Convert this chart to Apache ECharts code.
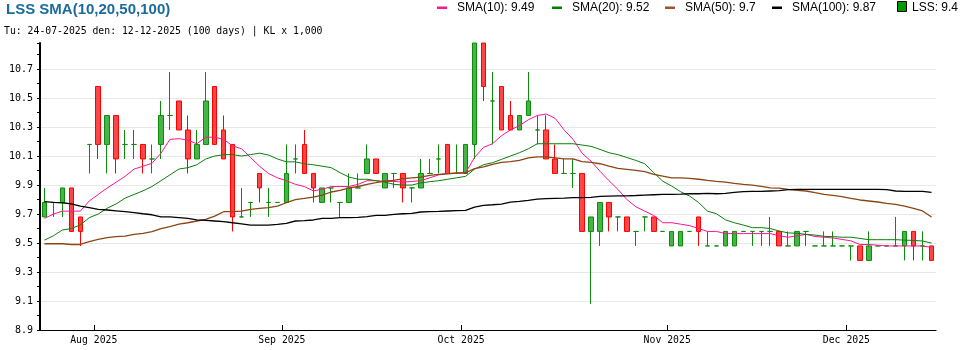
<!DOCTYPE html>
<html>
<head>
<meta charset="utf-8">
<title>LSS SMA(10,20,50,100)</title>
<script src="https://cdn.jsdelivr.net/npm/echarts@6/dist/echarts.min.js"></script>
<style>
  html, body { margin: 0; padding: 0; background: #fff; }
  #chart { width: 970px; height: 350px; }
</style>
</head>
<body>
<div id="chart"></div>
<script>
// Trading sessions shown on the chart (Sep 1-2 are market holidays)
const dates = [
  '2025-07-24','2025-07-25','2025-07-28','2025-07-29','2025-07-30','2025-07-31',
  '2025-08-01','2025-08-04','2025-08-05','2025-08-06','2025-08-07','2025-08-08','2025-08-11','2025-08-12','2025-08-13','2025-08-14','2025-08-15',
  '2025-08-18','2025-08-19','2025-08-20','2025-08-21','2025-08-22','2025-08-25','2025-08-26','2025-08-27','2025-08-28','2025-08-29',
  '2025-09-03','2025-09-04','2025-09-05','2025-09-08','2025-09-09','2025-09-10','2025-09-11','2025-09-12','2025-09-15','2025-09-16',
  '2025-09-17','2025-09-18','2025-09-19','2025-09-22','2025-09-23','2025-09-24','2025-09-25','2025-09-26','2025-09-29','2025-09-30',
  '2025-10-01','2025-10-02','2025-10-03','2025-10-06','2025-10-07','2025-10-08','2025-10-09','2025-10-10','2025-10-13','2025-10-14',
  '2025-10-15','2025-10-16','2025-10-17','2025-10-20','2025-10-21','2025-10-22','2025-10-23','2025-10-24','2025-10-27','2025-10-28',
  '2025-10-29','2025-10-30','2025-10-31',
  '2025-11-03','2025-11-04','2025-11-05','2025-11-06','2025-11-07','2025-11-10','2025-11-11','2025-11-12','2025-11-13','2025-11-14',
  '2025-11-17','2025-11-18','2025-11-19','2025-11-20','2025-11-21','2025-11-24','2025-11-25','2025-11-26','2025-11-27','2025-11-28',
  '2025-12-01','2025-12-02','2025-12-03','2025-12-04','2025-12-05','2025-12-08','2025-12-09','2025-12-10','2025-12-11','2025-12-12'
];

// Daily prices (thousand VND)
const openPrices = [
  9.7,9.8,9.8,9.9,9.7, 10.2,10.6,10.2,10.4,10.2, 10.2,10.2,10.1,10.2,10.4, 10.5,10.3,10.1,10.2,10.6, 10.3,10.2,9.7,9.8,10.0,
  9.8,9.8,9.8,10.1,10.2, 10.0,9.8,9.9,9.8,9.8, 9.9,10.0,10.1,9.9,10.0, 10.0,9.9,9.9,10.0,10.1, 10.2,10.0,10.0,10.2,10.9,
  10.5,10.6,10.4,10.3,10.4, 10.3,10.3,10.1,10.0,10.0, 10.0,9.6,9.6,9.8,9.7, 9.7,9.6,9.7,9.7,9.6, 9.5,9.5,9.6,9.7,9.5,
  9.5,9.5,9.5,9.6,9.6, 9.6,9.6,9.6,9.5,9.5, 9.6,9.5,9.5,9.5,9.5, 9.5,9.5,9.4,9.5,9.5, 9.5,9.5,9.6,9.5,9.5
];
const closePrices = [
  9.8,9.8,9.9,9.6,9.6, 10.2,10.2,10.4,10.1,10.2, 10.2,10.1,10.1,10.4,10.4, 10.3,10.1,10.2,10.5,10.2, 10.1,9.7,9.7,9.8,9.9,
  9.8,9.8,10.0,10.1,10.0, 9.9,9.9,9.9,9.8,9.9, 9.9,10.1,10.0,10.0,10.0, 9.9,9.9,10.0,10.0,10.1, 10.0,10.0,10.2,10.9,10.6,
  10.5,10.3,10.3,10.4,10.5, 10.3,10.1,10.0,10.0,10.0, 9.6,9.7,9.8,9.7,9.7, 9.6,9.6,9.7,9.6,9.6, 9.6,9.6,9.6,9.6,9.5,
  9.5,9.6,9.6,9.6,9.6, 9.6,9.6,9.5,9.5,9.6, 9.6,9.5,9.5,9.5,9.5, 9.5,9.4,9.5,9.5,9.5, 9.5,9.6,9.5,9.5,9.4
];
const lowPrices = [
  9.7,9.7,9.7,9.6,9.5, 10.0,10.1,10.0,10.0,10.1, 10.1,10.0,10.0,10.1,10.3, 10.3,10.0,10.1,10.2,10.2, 10.1,9.6,9.7,9.7,9.8,
  9.7,9.8,9.8,10.0,10.0, 9.8,9.8,9.8,9.7,9.8, 9.9,10.0,10.0,9.9,9.9, 9.8,9.8,9.9,10.0,10.0, 10.0,10.0,10.0,10.1,10.5,
  10.2,10.3,10.3,10.3,10.4, 10.2,10.1,10.0,10.0,9.9, 9.6,9.1,9.5,9.6,9.6, 9.6,9.5,9.6,9.6,9.6, 9.5,9.5,9.6,9.5,9.5,
  9.5,9.5,9.5,9.6,9.5, 9.5,9.5,9.5,9.5,9.5, 9.5,9.5,9.5,9.5,9.5, 9.4,9.4,9.4,9.5,9.5, 9.5,9.4,9.4,9.4,9.4
];
const highPrices = [
  9.9,9.8,9.9,9.9,9.7, 10.2,10.6,10.4,10.4,10.3, 10.3,10.2,10.2,10.5,10.7, 10.5,10.4,10.3,10.7,10.6, 10.4,10.2,9.9,9.8,10.0,
  9.9,9.8,10.2,10.2,10.3, 10.0,9.9,9.9,9.8,10.0, 10.0,10.2,10.1,10.0,10.0, 10.0,9.9,10.1,10.1,10.2, 10.2,10.2,10.2,10.9,10.9,
  10.7,10.6,10.5,10.4,10.7, 10.4,10.4,10.2,10.1,10.1, 10.0,9.7,9.8,9.8,9.7, 9.7,9.6,9.7,9.7,9.6, 9.6,9.6,9.6,9.7,9.6,
  9.5,9.6,9.6,9.6,9.6, 9.6,9.7,9.6,9.6,9.6, 9.6,9.5,9.6,9.6,9.5, 9.5,9.5,9.6,9.5,9.5, 9.7,9.6,9.6,9.6,9.5
];

// Moving averages
const sma10 = [
  9.69,9.72,9.74,9.74,9.74, 9.81,9.855,9.90,9.94,9.98, 10.03,10.05,10.07,10.14,10.235, 10.24,10.23,10.205,10.25,10.25, 10.235,10.19,10.17,10.11,10.05,
  10.0,9.97,9.95,9.925,9.91, 9.88,9.89,9.91,9.91,9.91, 9.925,9.95,9.95,9.945,9.945, 9.94,9.945,9.95,9.97,9.99, 10.0,10.0,10.005,10.11,10.18,
  10.205,10.26,10.30,10.33,10.37, 10.40,10.41,10.38,10.30,10.235, 10.14,10.085,10.015,9.95,9.89, 9.82,9.77,9.74,9.71,9.66, 9.66,9.65,9.64,9.62,9.60,
  9.60,9.585,9.585,9.585,9.585, 9.585,9.585,9.57,9.56,9.57, 9.58,9.565,9.56,9.555,9.545, 9.535,9.51,9.51,9.505,9.50, 9.50,9.50,9.50,9.50,9.49
];
const sma20 = [
  9.54,9.57,9.61,9.62,9.645, 9.695,9.72,9.76,9.79,9.83, 9.855,9.88,9.91,9.95,9.99, 10.03,10.04,10.06,10.10,10.12, 10.13,10.13,10.12,10.13,10.14,
  10.127,10.10,10.08,10.08,10.067, 10.06,10.05,10.04,10.005,9.975, 9.96,9.96,9.95,9.94,9.925, 9.92,9.92,9.935,9.943,9.95, 9.96,9.97,9.98,10.03,10.06,
  10.074,10.097,10.12,10.143,10.17, 10.205,10.205,10.205,10.205,10.205, 10.196,10.187,10.166,10.143,10.13, 10.11,10.09,10.067,10.005,9.947, 9.913,9.874,9.844,9.80,9.74,
  9.722,9.68,9.66,9.644,9.626, 9.626,9.62,9.603,9.59,9.587, 9.58,9.575,9.566,9.564,9.56, 9.56,9.552,9.543,9.543,9.543, 9.543,9.54,9.538,9.534,9.52
];
const sma50 = [
  9.515,9.515,9.515,9.51,9.51, 9.53,9.545,9.557,9.564,9.568, 9.58,9.587,9.598,9.62,9.633, 9.65,9.66,9.672,9.683,9.706, 9.736,9.736,9.74,9.752,9.759,
  9.764,9.775,9.798,9.82,9.828, 9.837,9.851,9.872,9.883,9.90, 9.91,9.925,9.936,9.948,9.952, 9.964,9.97,9.975,9.987,9.994, 9.998,10.003,10.005,10.033,10.046,
  10.063,10.076,10.081,10.09,10.108, 10.115,10.115,10.108,10.10,10.10, 10.081,10.076,10.067,10.05,10.035, 10.028,10.021,10.012,9.994,9.982, 9.97,9.97,9.966,9.96,9.952,
  9.945,9.94,9.931,9.925,9.92, 9.911,9.90,9.899,9.89,9.883, 9.879,9.867,9.856,9.849,9.84, 9.828,9.817,9.81,9.803,9.794, 9.787,9.775,9.759,9.741,9.7
];
const sma100 = [
  9.805,9.80,9.798,9.79,9.775, 9.765,9.752,9.748,9.742,9.736, 9.73,9.722,9.715,9.70,9.70, 9.695,9.69,9.68,9.676,9.672, 9.668,9.66,9.652,9.644,9.644,
  9.644,9.649,9.656,9.672,9.674, 9.679,9.69,9.69,9.695,9.695, 9.697,9.702,9.711,9.711,9.718, 9.722,9.725,9.734,9.736,9.738, 9.741,9.743,9.745,9.768,9.78,
  9.784,9.789,9.802,9.807,9.814, 9.823,9.826,9.828,9.83,9.833, 9.833,9.835,9.842,9.844,9.845, 9.846,9.848,9.851,9.853,9.855, 9.855,9.857,9.86,9.86,9.862,
  9.86,9.862,9.87,9.874,9.876, 9.876,9.879,9.881,9.888,9.89, 9.89,9.89,9.89,9.89,9.89, 9.89,9.89,9.89,9.89,9.888, 9.879,9.876,9.876,9.876,9.87
];

const monthNames = ['Jan','Feb','Mar','Apr','May','Jun','Jul','Aug','Sep','Oct','Nov','Dec'];

// Price axis: gridlines every 0.2 starting at the window low
const priceMin = 8.92;
const priceMax = 10.9;
const priceStep = 0.2;

const MONO = '"DejaVu Sans Mono", "Liberation Mono", monospace';
const SANS = '"Liberation Sans", Arial, sans-serif';

// First session of each month -> left edge of that session's slot
const monthStarts = [];
for (let i = 1; i < dates.length; i++) {
  if (dates[i].slice(5, 7) !== dates[i - 1].slice(5, 7)) monthStarts.push(i);
}
function monthLabel(v) {
  const d = dates[Math.round(v)];
  return monthNames[parseInt(d.slice(5, 7), 10) - 1] + ' ' + d.slice(0, 4);
}

const candles = dates.map((d, i) => [openPrices[i], closePrices[i], lowPrices[i], highPrices[i]]);
const last = arr => arr[arr.length - 1];

const maSeries = [
  { name: 'SMA(10)', data: sma10, color: '#ff1493', width: 1 },
  { name: 'SMA(20)', data: sma20, color: '#0a800a', width: 1 },
  { name: 'SMA(50)', data: sma50, color: '#8b4513', width: 1.3 },
  { name: 'SMA(100)', data: sma100, color: '#000000', width: 1.3 }
];

// Legend row at the top right
const legendItems = [
  { x: 437, color: '#ff1493', text: 'SMA(10): ' + last(sma10) },
  { x: 552, color: '#008000', text: 'SMA(20): ' + last(sma20) },
  { x: 665, color: '#a0522d', text: 'SMA(50): ' + last(sma50) },
  { x: 772, color: '#000000', text: 'SMA(100): ' + last(sma100) }
];
const graphics = [
  { type: 'text', x: 6, y: 10, style: { text: 'LSS SMA(10,20,50,100)', font: 'bold 15px ' + SANS, fill: '#1b6b9d', textVerticalAlign: 'middle' } },
  { type: 'text', x: 4, y: 31.5, style: { text: 'Tu: ' + dates[0].split('-').reverse().join('-') + ' den: ' + last(dates).split('-').reverse().join('-') + ' (' + dates.length + ' days) | KL x 1,000', font: '9.8px ' + MONO, fill: '#000', textVerticalAlign: 'middle' } }
];
legendItems.forEach(it => {
  graphics.push({ type: 'rect', shape: { x: it.x, y: 6.5, width: 10, height: 2.5 }, style: { fill: it.color } });
  graphics.push({ type: 'text', x: it.x + 20, y: 8, style: { text: it.text, font: '12px ' + SANS, fill: '#000', textVerticalAlign: 'middle' } });
});
graphics.push({ type: 'rect', shape: { x: 897.5, y: 1.5, width: 9, height: 10 }, style: { fill: '#009a00', stroke: '#000', lineWidth: 1 } });
graphics.push({ type: 'text', x: 912, y: 8, style: { text: 'LSS: ' + last(closePrices), font: '12px ' + SANS, fill: '#000', textVerticalAlign: 'middle' } });

const chart = echarts.init(document.getElementById('chart'), null, { renderer: 'canvas' });
chart.setOption({
  animation: false,
  backgroundColor: '#fff',
  grid: { left: 40, right: 34, top: 43, bottom: 20, containLabel: false, outerBoundsMode: 'none' },
  xAxis: [
    {
      type: 'category', data: dates, boundaryGap: true, position: 'top',
      axisLine: { show: false }, axisTick: { show: false }, axisLabel: { show: false }, splitLine: { show: false }
    },
    {
      type: 'value', min: 0, max: dates.length, position: 'bottom',
      axisLine: { show: true, onZero: false, lineStyle: { color: '#000', width: 1.2 } },
      splitLine: { show: false },
      axisTick: { show: true, inside: true, length: 5, customValues: monthStarts, lineStyle: { color: '#000' } },
      axisLabel: { show: true, customValues: monthStarts, formatter: monthLabel, margin: 5, color: '#000', fontFamily: MONO, fontSize: 9.8 }
    }
  ],
  yAxis: {
    type: 'value', min: priceMin, max: priceMax, interval: priceStep,
    axisLine: { show: true, onZero: false, lineStyle: { color: '#000', width: 2 } },
    axisTick: { show: true, length: 3, lineStyle: { color: '#000' } },
    minorTick: { show: true, splitNumber: 2, length: 3, lineStyle: { color: '#000' } },
    axisLabel: { formatter: v => v.toFixed(1), showMaxLabel: false, margin: 7, color: '#000', fontFamily: MONO, fontSize: 10 },
    splitLine: { show: true, showMinLine: false, showMaxLine: false, lineStyle: { color: '#e8e8e8', width: 1 } }
  },
  series: [
    {
      type: 'candlestick', name: 'LSS', xAxisIndex: 0, data: candles, barWidth: 5, silent: true,
      itemStyle: {
        color: '#46b446', color0: '#ff4646',
        borderColor: '#0b8c0b', borderColor0: '#ff0000', borderColorDoji: '#0b8c0b', borderWidth: 1
      }
    }
  ].concat(maSeries.map(s => ({
    type: 'line', name: s.name, xAxisIndex: 0, data: s.data, showSymbol: false, symbol: 'none', silent: true,
    lineStyle: { color: s.color, width: s.width }
  }))),
  graphic: graphics
});
</script>
</body>
</html>
